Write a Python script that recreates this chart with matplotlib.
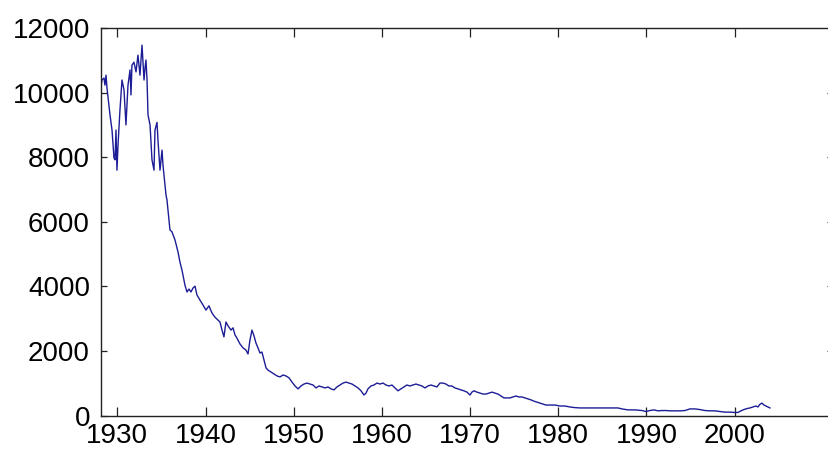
import numpy as np
import matplotlib.pyplot as plt

plt.rcParams['font.family'] = ['Liberation Sans', 'DejaVu Sans']

# monthly-ish index level, 1928 - 2004
year = [
    1928.15, 1928.26, 1928.49, 1928.60, 1928.72, 1928.83, 1929.17, 1929.40, 1929.62, 1929.74,
    1929.85, 1929.96, 1930.08, 1930.30, 1930.53, 1930.76, 1930.98, 1931.21, 1931.44, 1931.55,
    1931.66, 1931.89, 1932.12, 1932.34, 1932.57, 1932.80, 1933.03, 1933.14, 1933.25, 1933.37,
    1933.48, 1933.71, 1933.93, 1934.16, 1934.27, 1934.50, 1934.61, 1934.84, 1935.07, 1935.18,
    1935.52, 1935.63, 1935.97, 1936.20, 1936.54, 1936.88, 1937.10, 1937.33, 1937.67, 1937.90,
    1938.13, 1938.35, 1938.58, 1938.81, 1939.03, 1939.37, 1939.71, 1940.05, 1940.39, 1940.73,
    1941.07, 1941.41, 1941.64, 1941.87, 1942.09, 1942.32, 1942.55, 1942.89, 1943.12, 1943.34,
    1943.57, 1943.91, 1944.25, 1944.59, 1944.82, 1945.04, 1945.27, 1945.50, 1945.72, 1945.95,
    1946.18, 1946.40, 1946.63, 1946.86, 1947.09, 1947.43, 1947.77, 1948.11, 1948.45, 1948.79,
    1949.13, 1949.47, 1949.81, 1950.15, 1950.49, 1950.83, 1951.17, 1951.51, 1951.85, 1952.19,
    1952.53, 1952.87, 1953.21, 1953.55, 1953.89, 1954.23, 1954.57, 1954.91, 1955.25, 1955.59,
    1955.93, 1956.27, 1956.61, 1956.95, 1957.29, 1957.63, 1957.97, 1958.20, 1958.42, 1958.76,
    1959.10, 1959.44, 1959.78, 1960.12, 1960.46, 1960.80, 1961.14, 1961.48, 1961.82, 1962.16,
    1962.50, 1962.84, 1963.18, 1963.52, 1963.86, 1964.20, 1964.54, 1964.88, 1965.22, 1965.56,
    1965.90, 1966.24, 1966.58, 1966.92, 1967.26, 1967.60, 1967.94, 1968.28, 1968.62, 1968.96,
    1969.30, 1969.65, 1969.99, 1970.21, 1970.44, 1970.78, 1971.12, 1971.46, 1971.80, 1972.14,
    1972.48, 1972.82, 1973.16, 1973.50, 1973.84, 1974.18, 1974.52, 1974.86, 1975.20, 1975.54,
    1975.88, 1976.22, 1976.56, 1976.90, 1977.24, 1977.58, 1977.92, 1978.26, 1978.60, 1979.05,
    1979.62, 1980.19, 1980.76, 1981.32, 1981.89, 1982.46, 1983.59, 1984.73, 1985.86, 1986.77,
    1987.22, 1987.90, 1988.70, 1989.49, 1989.94, 1990.40, 1990.85, 1991.30, 1991.76, 1992.21,
    1992.66, 1993.23, 1993.80, 1994.36, 1994.93, 1995.50, 1996.06, 1996.63, 1997.20, 1997.76,
    1998.33, 1998.90, 1999.47, 2000.03, 2000.37, 2000.71, 2001.05, 2001.39, 2001.73, 2002.07,
    2002.41, 2002.64, 2002.86, 2003.09, 2003.32, 2003.55, 2003.77, 2004.00,
]
value = [
    10170, 10390, 10450, 10230, 10540, 10140, 9310, 8840, 7980, 7920,
    8840, 7600, 8380, 9460, 10390, 10080, 9000, 10230, 10700, 9930,
    10850, 10940, 10640, 11160, 10540, 11470, 10390, 10760, 11010, 10390,
    9310, 9000, 7920, 7600, 8840, 9080, 8530, 7600, 8220, 7750,
    6830, 6680, 5750, 5690, 5440, 5070, 4760, 4510, 4040, 3830,
    3920, 3830, 3950, 4010, 3740, 3580, 3430, 3270, 3400, 3180,
    3050, 2960, 2900, 2650, 2440, 2900, 2780, 2650, 2720, 2500,
    2400, 2220, 2100, 2030, 1910, 2340, 2650, 2470, 2250, 2100,
    1940, 1970, 1720, 1480, 1410, 1350, 1290, 1230, 1200, 1260,
    1230, 1170, 1040, 920, 830, 920, 980, 1010, 980, 950,
    860, 920, 890, 860, 890, 830, 800, 890, 950, 1010,
    1040, 1010, 980, 920, 860, 770, 640, 700, 830, 920,
    950, 1010, 980, 1010, 950, 920, 950, 860, 770, 830,
    890, 950, 920, 950, 980, 950, 920, 860, 920, 950,
    920, 890, 1010, 1010, 980, 920, 920, 860, 830, 800,
    770, 730, 640, 730, 770, 730, 700, 670, 670, 700,
    730, 700, 670, 610, 550, 550, 550, 580, 610, 580,
    580, 550, 520, 490, 450, 420, 390, 360, 330, 330,
    330, 300, 300, 270, 250, 240, 240, 240, 240, 240,
    210, 180, 180, 160, 130, 160, 180, 150, 160, 160,
    150, 150, 150, 160, 210, 210, 190, 160, 150, 150,
    130, 110, 110, 100, 100, 150, 190, 220, 240, 270,
    300, 270, 350, 390, 330, 300, 270, 240,
]

xticks = [1930, 1940, 1950, 1960, 1970, 1980, 1990, 2000]
yticks = [0, 2000, 4000, 6000, 8000, 10000, 12000]

fig = plt.figure(figsize=(8.29, 4.5), dpi=100)
# right edge of the box sits just past the figure border
ax = fig.add_axes([101 / 829, 34.3 / 450, 732 / 829, 387.7 / 450])

ax.plot(year, value, color='#1c1c96', lw=1.0)

ax.set_xlim(1928.15, 2011.15)
ax.set_ylim(0, 12000)
ax.set_xticks(xticks)
ax.set_yticks(yticks)

for s in ax.spines.values():
    s.set_color('#222222')
    s.set_linewidth(1.0)

ax.tick_params(axis='both', direction='in', top=True, right=True,
               labelsize=20, width=0.9, color='#222222')
ax.tick_params(axis='x', length=6.5, pad=5)
ax.tick_params(axis='y', length=4, pad=8)

plt.savefig('out.png', dpi=100)
